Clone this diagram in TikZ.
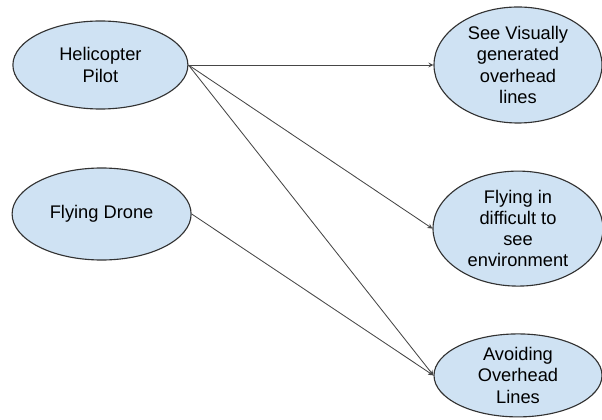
\documentclass[tikz,border=0pt]{standalone}
\usepackage{fontspec}
\setmainfont{Liberation Sans}
\usepackage{tikz}
\usetikzlibrary{shapes.geometric, arrows}
\definecolor{bubblefill}{RGB}{207,226,243}
\definecolor{bubbleline}{RGB}{50,50,50}
\definecolor{linkgray}{RGB}{70,70,70}
\tikzstyle{actor} = [ellipse, draw=bubbleline, line width=0.8pt, fill=bubblefill, inner sep=0pt, align=center, font=\fontsize{13}{15}\selectfont]
\tikzstyle{usecase} = [ellipse, draw=bubbleline, line width=0.8pt, fill=bubblefill, inner sep=0pt, align=center, font=\fontsize{13}{15}\selectfont]
\tikzstyle{arrow} = [draw=linkgray, line width=0.6pt, ->, >=stealth]

\begin{document}
\begin{tikzpicture}
    \useasboundingbox (0,0) rectangle (15.05,10.475);
    \node [actor, minimum width=4.375cm, minimum height=2.2cm] at (2.51,8.85) (pilot) {Helicopter\\Pilot};
    \node [actor, minimum width=4.475cm, minimum height=2.3cm] at (2.54,5.125) (drone) {Flying Drone};
    \node [usecase, minimum width=4.2cm, minimum height=2.9cm] at (12.95,8.85) (see) {See Visually\\generated\\overhead\\lines};
    \node [usecase, minimum width=4.25cm, minimum height=2.875cm] at (12.95,4.76) (fly) {Flying in\\difficult to\\see\\environment};
    \node [usecase, minimum width=4.2cm, minimum height=2.075cm] at (12.95,1.09) (avoid) {Avoiding\\Overhead\\Lines};
    \draw [arrow] (pilot.east) -- (see.west);
    \draw [arrow] (pilot.east) -- (fly.west);
    \draw [arrow] (pilot.east) -- (avoid.west);
    \draw [arrow] (drone.east) -- (avoid.west);
\end{tikzpicture}
\end{document}
